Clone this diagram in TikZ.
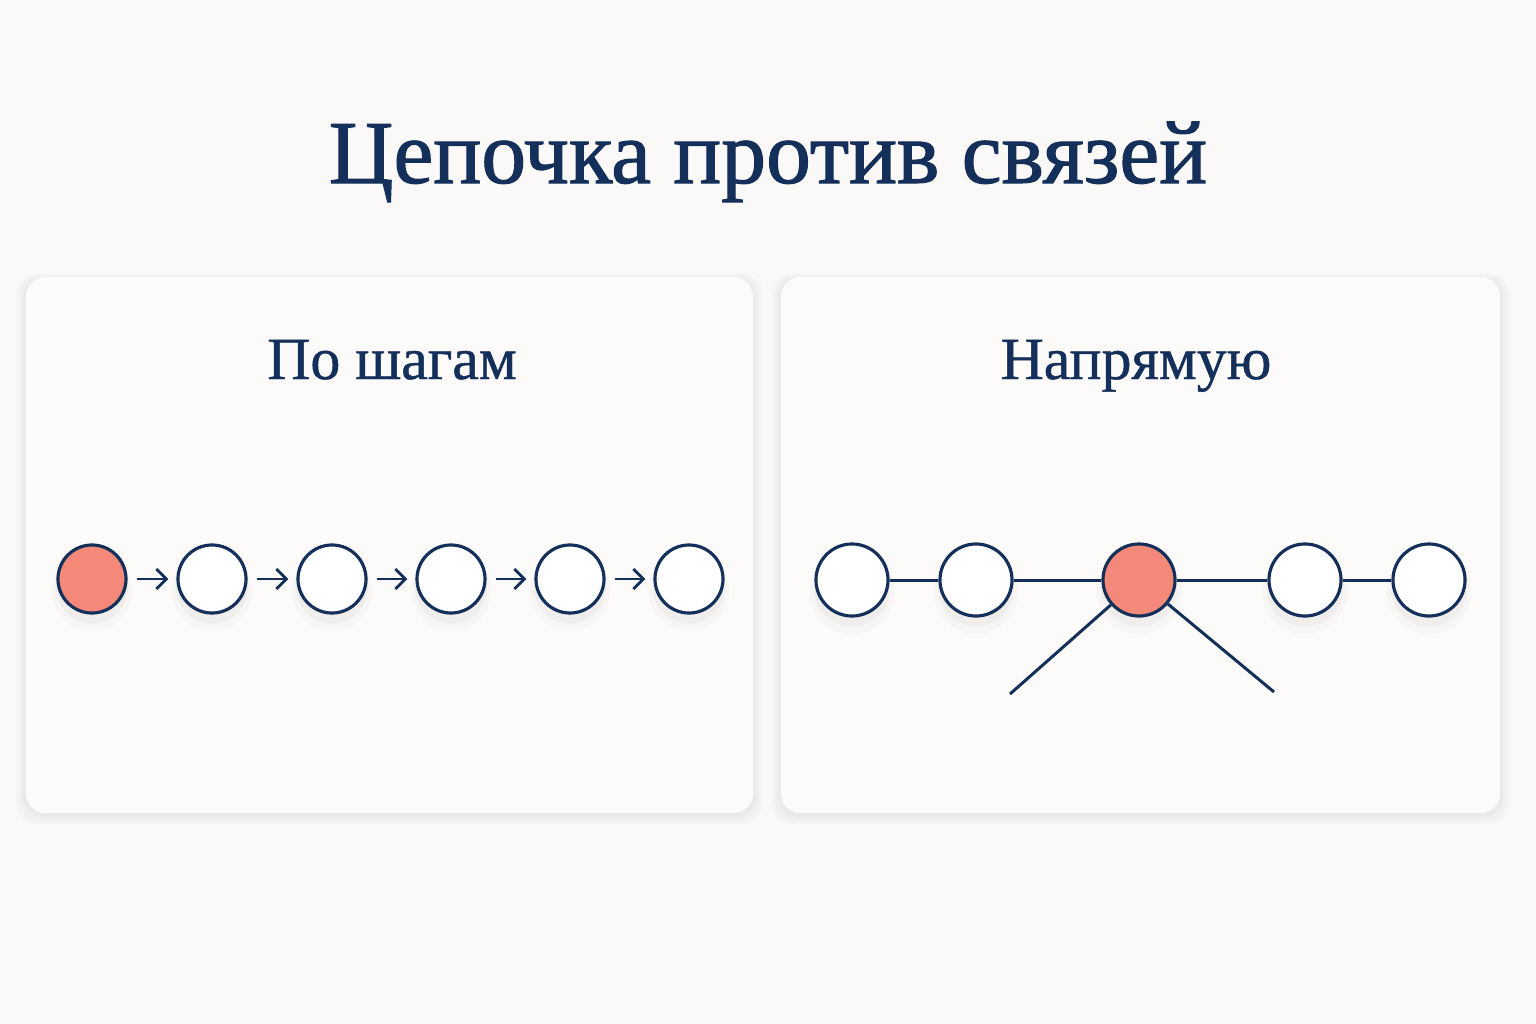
\documentclass[tikz,border=0pt]{standalone}
\usepackage{fontspec}
\setmainfont{Liberation Serif}
\usetikzlibrary{arrows.meta, shadows}

\definecolor{navy}{HTML}{14305A}
\definecolor{salmon}{HTML}{F4897A}
\definecolor{paper}{HTML}{FAF9F7}
\definecolor{cardbg}{HTML}{FCFBFA}

\begin{document}
\begin{tikzpicture}[x=0.01cm, y=-0.01cm]

        \tikzstyle{card} = [draw=none, fill=cardbg, rounded corners=0.2cm,
            general shadow={fill=black, opacity=0.018, shadow scale=1.026, shadow yshift=-0.04cm},
            general shadow={fill=black, opacity=0.02, shadow scale=1.016, shadow yshift=-0.03cm},
            general shadow={fill=black, opacity=0.022, shadow scale=1.007, shadow yshift=-0.02cm}];
        \tikzstyle{roundnode} = [draw=navy, line width=0.9pt, circle, fill=white, minimum size=0.68cm, inner sep=0,
            general shadow={fill=black, opacity=0.02, shadow scale=1.18, shadow yshift=-0.1cm},
            general shadow={fill=black, opacity=0.03, shadow scale=1.06, shadow yshift=-0.08cm}];
        \tikzstyle{bignode} = [roundnode, minimum size=0.72cm];
        \tikzstyle{hot} = [fill=salmon];
        \tikzstyle{arrow} = [navy, line width=0.8pt, -{Straight Barb[length=0.1cm, width=0.2cm]}, shorten <=0.09cm, shorten >=0.08cm];
        \tikzstyle{link} = [navy, line width=0.85pt];
        \tikzstyle{heading} = [navy, anchor=base, inner sep=0, font=\fontsize{17pt}{20pt}\selectfont\addfontfeature{FakeBold=0.8}];

        \fill[paper] (0,0) rectangle (1536,1024);
        \useasboundingbox (0,0) rectangle (1536,1024);

        \node[navy, anchor=base, inner sep=0, font=\fontsize{25.5pt}{30pt}\selectfont\addfontfeature{FakeBold=1.2}] (title) at (768,183) {Цепочка против связей};

        % Left - Steps
        \node[card, minimum width=7.27cm, minimum height=5.36cm] (CL) at (389.5,545) {};
        \node[heading] (TL) at (392,379) {По шагам};

        \node[roundnode, hot] (S1) at (92,579) {};
        \node[roundnode] (S2) at (212,579) {};
        \node[roundnode] (S3) at (332,579) {};
        \node[roundnode] (S4) at (451,579) {};
        \node[roundnode] (S5) at (570,579) {};
        \node[roundnode] (S6) at (689,579) {};

        \foreach \a/\b in {S1/S2, S2/S3, S3/S4, S4/S5, S5/S6}
            \draw [arrow] (\a) -- (\b);
        % Left - Steps

        % Right - Direct
        \node[card, minimum width=7.19cm, minimum height=5.36cm] (CR) at (1140.5,545) {};
        \node[heading] (TR) at (1136,379) {Напрямую};

        \node[bignode] (D1) at (852,580) {};
        \node[bignode] (D2) at (976,580) {};
        \node[bignode, hot] (D3) at (1139,580) {};
        \node[bignode] (D4) at (1305,580) {};
        \node[bignode] (D5) at (1429,580) {};

        \coordinate (EL) at (1010,694);
        \coordinate (ER) at (1274,692);

        \draw [link] (D1) -- (D2);
        \draw [link] (D2) -- (D3);
        \draw [link] (D3) -- (D4);
        \draw [link] (D4) -- (D5);
        \draw [link] (D3) -- (EL);
        \draw [link] (D3) -- (ER);
        % Right - Direct

\end{tikzpicture}
\end{document}
